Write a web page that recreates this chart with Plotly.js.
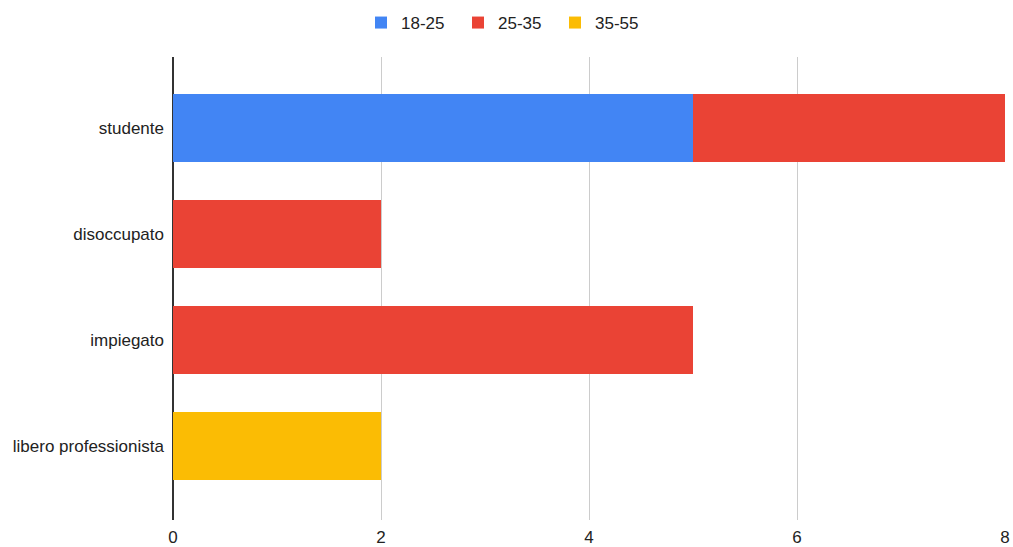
<!DOCTYPE html>
<html><head><meta charset="utf-8">
<script src="https://cdn.plot.ly/plotly-3.0.1.min.js"></script>
<style>html,body{margin:0;padding:0;background:#fff}</style>
</head><body><div id="chart" style="width:1013px;height:547px"></div>
<script>
const categories = ["studente", "disoccupato", "impiegato", "libero professionista"];
const series18_25 = [5, 0, 0, 0];
const series25_35 = [3, 2, 5, 0];
const series35_55 = [0, 0, 0, 2];
const seriesNames = ["18-25", "25-35", "35-55"];
const colors = ["#4285F4", "#EA4335", "#FBBC04"];
const allSeries = [series18_25, series25_35, series35_55];

const traces = allSeries.map((vals, i) => ({
  type: 'bar', orientation: 'h', name: seriesNames[i],
  y: categories, x: vals, marker: {color: colors[i], line: {width: 0}},
  width: 0.64, hoverinfo: 'x+y+name'
}));

const layout = {
  width: 1013, height: 547,
  barmode: 'stack',
  margin: {l: 173, r: 8, t: 57, b: 27},
  font: {family: '"Liberation Sans", Arial, sans-serif', size: 17, color: '#222'},
  paper_bgcolor: '#fff', plot_bgcolor: '#fff',
  xaxis: {range: [0, 8], dtick: 2, showgrid: true, gridcolor: '#cccccc', gridwidth: 1,
          zeroline: true, zerolinecolor: '#333', zerolinewidth: 1.5, showline: false,
          ticks: '', fixedrange: true, ticklabelstandoff: 5, tickfont: {size: 17, color: '#222'}},
  yaxis: {type: 'category', range: [3.70, -0.67], showgrid: false, zeroline: false,
          showline: false, ticks: '', ticklen: 0, ticklabelstandoff: 8,
          tickfont: {size: 17, color: '#222'}, fixedrange: true},
  showlegend: true,
  legend: {orientation: 'h', xref: 'container', yref: 'container', x: 0.5, xanchor: 'center',
           y: 1 - 23/547, yanchor: 'middle', font: {size: 17, color: '#222'}, traceorder: 'normal',
           itemwidth: 30, entrywidth: 52, entrywidthmode: 'pixels', itemclick: false}
};
Plotly.newPlot('chart', traces, layout, {displayModeBar: false, staticPlot: true});
</script></body></html>
